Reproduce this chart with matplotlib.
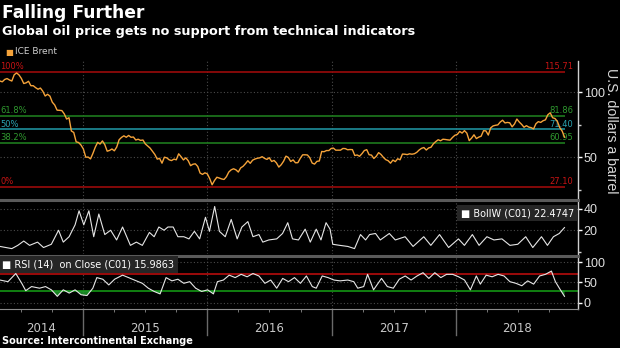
import matplotlib
matplotlib.use('Agg')

import numpy as np
import pandas as pd
import matplotlib.pyplot as plt
import matplotlib.transforms as mtransforms

# ICE Brent, weekly closes (USD/bbl), first week May 2014
brent = [108.6, 108.0, 109.8, 110.5, 109.4, 108.6, 113.4, 114.8, 113.3, 110.6,
         106.7, 107.2, 108.4, 105.0, 105.0, 103.5, 102.3, 103.2, 100.8, 97.1,
         98.4, 97.0, 92.3, 90.2, 86.2, 86.1, 85.9, 83.4, 79.4, 80.4,
         70.2, 69.1, 61.9, 61.4, 59.5,
         56.4, 50.1, 50.2, 48.8, 53.0, 57.8, 61.5, 60.2, 62.6, 59.7,
         54.7, 55.3, 56.4, 55.0, 57.9, 63.5, 65.3, 66.5, 65.4, 66.8,
         65.4, 65.6, 63.3, 63.9, 63.0, 63.3, 60.3, 58.7, 57.1, 54.6,
         52.2, 48.6, 49.2, 45.5, 50.1, 49.6, 48.1, 47.5, 48.6, 48.1,
         52.7, 50.5, 48.0, 49.6, 47.4, 43.6, 44.7, 45.0, 43.0, 37.9,
         36.9, 38.1,
         37.3, 33.6, 28.9, 32.2, 34.7, 34.1, 33.4, 33.0, 35.1, 38.7,
         40.4, 41.2, 40.4, 38.7, 41.9, 43.1, 45.1, 47.4, 45.4, 47.8,
         48.7, 49.3, 49.6, 50.5, 49.2, 48.4, 49.7, 46.8, 47.6, 45.7,
         42.5, 44.3, 47.0, 50.9, 49.9, 46.8, 48.0, 45.8, 45.9, 49.2,
         51.9, 51.95, 51.8, 49.7, 45.6, 44.8, 46.9, 47.2, 54.5, 54.3,
         55.2, 55.2, 56.8,
         57.1, 55.5, 55.5, 55.5, 56.8, 56.7, 55.8, 56.0, 55.9, 51.4,
         51.8, 50.8, 52.8, 55.2, 55.9, 52.0, 51.7, 49.1, 50.8, 53.6,
         52.2, 49.95, 48.2, 47.4, 45.5, 47.9, 46.7, 48.9, 48.1, 52.5,
         52.4, 52.1, 52.7, 52.4, 52.75, 53.8, 55.6, 56.9, 57.5, 55.6,
         57.2, 57.75, 60.4, 62.1, 63.5, 62.7, 63.9, 63.7, 63.4, 63.2,
         65.25, 66.9,
         67.6, 69.9, 68.6, 70.5, 68.6, 62.8, 64.8, 67.3, 64.4, 65.5,
         66.2, 70.45, 70.3, 67.1, 72.6, 74.1, 74.6, 74.9, 77.1, 78.5,
         76.4, 76.8, 76.5, 73.4, 75.6, 79.4, 77.1, 75.3, 73.1, 74.3,
         73.2, 72.8, 71.8, 75.8, 77.4, 76.8, 78.1, 78.8, 82.7, 84.2,
         80.4, 79.8, 77.6, 72.8, 70.2, 65.5]

# Bollinger band width readings (decimal year, value)
bollw_t = [2014.332, 2014.427, 2014.475, 2014.523, 2014.570, 2014.634, 2014.682, 2014.745,
           2014.803, 2014.841, 2014.888, 2014.936, 2014.968, 2015.006, 2015.047, 2015.086,
           2015.127, 2015.175, 2015.222, 2015.270, 2015.318, 2015.381, 2015.429, 2015.477,
           2015.534, 2015.572, 2015.610, 2015.652, 2015.683, 2015.725, 2015.763, 2015.811,
           2015.852, 2015.896, 2015.938, 2015.985, 2016.017, 2016.059, 2016.097, 2016.144,
           2016.192, 2016.240, 2016.278, 2016.326, 2016.367, 2016.415, 2016.446, 2016.494,
           2016.558, 2016.605, 2016.647, 2016.685, 2016.733, 2016.787, 2016.828, 2016.876,
           2016.914, 2016.955, 2016.987, 2017.009, 2017.066, 2017.130, 2017.184, 2017.232,
           2017.273, 2017.305, 2017.353, 2017.391, 2017.464, 2017.512, 2017.591, 2017.655,
           2017.741, 2017.798, 2017.868, 2017.941, 2018.020, 2018.068, 2018.132, 2018.186,
           2018.249, 2018.306, 2018.370, 2018.434, 2018.497, 2018.561, 2018.618, 2018.688,
           2018.736, 2018.784, 2018.831, 2018.873]
bollw = [5, 3, 6, 10, 6, 9, 4, 7,
         20, 9, 14, 25, 38, 25, 38, 14,
         35, 16, 20, 11, 23, 6, 9, 6,
         18, 14, 23, 20, 23, 23, 14, 14,
         12, 19, 12, 32, 19, 42, 19, 14,
         30, 12, 23, 28, 14, 16, 9, 11,
         12, 17, 27, 12, 11, 21, 9, 21,
         11, 27, 21, 7, 6, 5, 3, 16,
         11, 16, 17, 11, 17, 11, 14, 5,
         14, 6, 16, 4, 12, 6, 16, 6,
         14, 11, 12, 6, 7, 14, 4, 14,
         6, 14, 17, 22.4747]

# RSI(14) readings (decimal year, value)
rsi_t = [2014.332, 2014.396, 2014.459, 2014.507, 2014.539, 2014.586, 2014.650, 2014.698,
         2014.745, 2014.793, 2014.841, 2014.889, 2014.936, 2014.984, 2015.032, 2015.079,
         2015.111, 2015.159, 2015.207, 2015.254, 2015.318, 2015.366, 2015.413, 2015.477,
         2015.525, 2015.572, 2015.620, 2015.668, 2015.715, 2015.763, 2015.811, 2015.858,
         2015.906, 2015.954, 2016.002, 2016.049, 2016.081, 2016.129, 2016.176, 2016.224,
         2016.272, 2016.320, 2016.367, 2016.415, 2016.463, 2016.510, 2016.558, 2016.606,
         2016.653, 2016.701, 2016.749, 2016.797, 2016.844, 2016.876, 2016.924, 2016.971,
         2017.019, 2017.067, 2017.130, 2017.178, 2017.210, 2017.258, 2017.289, 2017.337,
         2017.401, 2017.448, 2017.496, 2017.544, 2017.592, 2017.639, 2017.687, 2017.735,
         2017.782, 2017.830, 2017.878, 2017.925, 2017.973, 2018.021, 2018.069, 2018.116,
         2018.164, 2018.196, 2018.243, 2018.291, 2018.339, 2018.387, 2018.434, 2018.482,
         2018.530, 2018.577, 2018.625, 2018.673, 2018.720, 2018.768, 2018.800, 2018.832,
         2018.873]
rsi = [56, 52, 72, 48, 30, 40, 36, 40,
       32, 16, 32, 24, 32, 20, 18, 36,
       62, 58, 44, 58, 68, 62, 56, 48,
       36, 28, 22, 62, 54, 58, 48, 52,
       36, 28, 32, 22, 52, 56, 68, 62,
       70, 64, 72, 66, 48, 56, 36, 60,
       52, 62, 48, 66, 40, 36, 66, 62,
       56, 54, 56, 52, 36, 40, 70, 32,
       60, 40, 36, 58, 66, 56, 66, 74,
       60, 74, 62, 70, 70, 64, 56, 32,
       66, 46, 68, 64, 70, 66, 52, 48,
       42, 54, 46, 66, 70, 78, 52, 36,
       15.9863]

fib_labels = ['100%', '61.8%', '50%', '38.2%', '0%']
fib_values = [115.71, 81.86, 71.40, 60.95, 27.10]
fib_line_colors = ['#9a0a0a', '#1d7a1d', '#1f8f9c', '#1d7a1d', '#9a0a0a']
fib_text_colors = ['#c81414', '#2f9a2f', '#2aa6b4', '#2f9a2f', '#c81414']

years = [2014, 2015, 2016, 2017, 2018]

BG = 'black'
x0, x1 = 2014.332, 2018.982


def dec_year(d):
    return np.asarray(d.year + (d.dayofyear - 1) / 365.25, dtype=float)


brent_dates = pd.date_range('2014-05-02', periods=len(brent), freq='7D')
brent_t = dec_year(brent_dates)

fig = plt.figure(figsize=(6.2, 3.48), dpi=100)
fig.patch.set_facecolor(BG)

ax = fig.add_axes([0, 0.4282, 0.9323, 0.3966])
axb = fig.add_axes([0, 0.2701, 0.9323, 0.1552])
axr = fig.add_axes([0, 0.1121, 0.9323, 0.1523])


def style(a):
    a.set_facecolor(BG)
    a.set_xlim(x0, x1)
    for s in ['left', 'top', 'bottom']:
        a.spines[s].set_visible(False)
    a.spines['right'].set_color('#cfcfcf')
    a.spines['right'].set_linewidth(1)
    a.yaxis.tick_right()
    a.tick_params(axis='y', which='major', direction='out', length=3, width=1,
                  color='white', labelcolor='#e0e0e0', labelsize=9, pad=1)
    a.tick_params(axis='y', which='minor', direction='out', length=2, width=1, color='#cfcfcf')
    a.tick_params(axis='x', which='both', bottom=False, labelbottom=False)
    for lab in a.get_yticklabels():
        lab.set_family('Liberation Sans')
    a.grid(axis='y', which='major', linestyle=(0, (1, 2)), color='#4a4a4a', linewidth=0.8)
    for y in years[1:]:
        a.axvline(y, color='#4a4a4a', linestyle=(0, (1, 2)), linewidth=0.8, zorder=0)


# price panel
ax.set_ylim(18, 124)
ax.set_yticks([50, 100])
ax.set_yticks([25, 75], minor=True)
# BollW panel
axb.set_ylim(-2, 48)
axb.set_yticks([20, 40])
axb.set_yticks([0], minor=True)
# RSI panel
axr.set_ylim(-15, 115)
axr.set_yticks([0, 50, 100])

for a in (ax, axb, axr):
    style(a)

t_end = brent_t[-1]
for lab, val, lc, tc in zip(fib_labels, fib_values, fib_line_colors, fib_text_colors):
    ax.hlines(val, x0, t_end, color=lc, linewidth=1.2, zorder=1)
    ax.text(x0 + 0.003, val + 0.6, lab, color=tc, fontsize=6, ha='left', va='bottom')
    ax.text(t_end + 0.07, val + 0.6, f'{val:.2f}', color=tc, fontsize=6, ha='right', va='bottom')
ax.plot(brent_t, brent, color='#f5a33a', linewidth=1.0, zorder=3)
fig.text(611 / 620, 1 - 131 / 348, 'U.S. dollars a barrel', color='#d8d8d8',
         fontsize=10.2, family='Liberation Sans', rotation=270, ha='center', va='center')

axb.spines['top'].set_visible(True)
axb.spines['top'].set_color('#5a5a5a')
axb.spines['top'].set_linewidth(2.2)
axb.plot(bollw_t, bollw, color='#e6e6e6', linewidth=0.8)
axb.text(0.993, 0.85, '\u25A0 BollW (C01) 22.4747', transform=axb.transAxes, color='white',
         fontsize=7, ha='right', va='top',
         bbox=dict(boxstyle='square,pad=0.35', facecolor='#262626', edgecolor='none'))

axr.spines['top'].set_visible(True)
axr.spines['top'].set_color('#5a5a5a')
axr.spines['top'].set_linewidth(2.2)
axr.spines['bottom'].set_visible(True)
axr.spines['bottom'].set_color('#8a8a8a')
rsi_arr = np.array(rsi)
axr.axhline(70, color='#a80c0c', linewidth=1.3, zorder=1)
axr.axhline(30, color='#128a12', linewidth=1.3, zorder=1)
axr.fill_between(rsi_t, rsi_arr, 30, where=rsi_arr < 30, interpolate=True,
                 color='#1e9a2a', alpha=0.85, linewidth=0, zorder=2)
axr.fill_between(rsi_t, rsi_arr, 70, where=rsi_arr > 70, interpolate=True,
                 color='#b81414', alpha=0.85, linewidth=0, zorder=2)
axr.plot(rsi_t, rsi, color='#e6e6e6', linewidth=0.8, zorder=3)
axr.text(0.004, 0.93, '\u25A0 RSI (14)  on Close (C01) 15.9863', transform=axr.transAxes,
         color='white', fontsize=7, ha='left', va='top',
         bbox=dict(boxstyle='square,pad=0.35', facecolor='#262626', edgecolor='none'))

quarters = [y + q / 4 for y in range(2014, 2019) for q in range(4) if x0 < y + q / 4 < x1]
axr.set_xticks(quarters, minor=True)
axr.tick_params(axis='x', which='minor', bottom=True, direction='out', length=2,
                color='#8a8a8a')

# year separators and labels below the axis
for y in years[1:]:
    axr.axvline(y, ymin=-0.49, ymax=0, color='#6a6a6a', linewidth=1, clip_on=False)
trans = mtransforms.blended_transform_factory(axr.transData, fig.transFigure)
for y in years:
    lo, hi = max(y, x0), min(y + 1, x1)
    axr.text((lo + hi) / 2, 1 - 329 / 348, str(y), transform=trans, color='#c8c8c8',
             fontsize=8.5, ha='center', va='center')

# titles
fig.text(0.004, 1 - 13 / 348, 'Falling Further', color='white', fontsize=12.3,
         fontweight='bold', ha='left', va='center')
fig.text(0.004, 1 - 32 / 348, 'Global oil price gets no support from technical indicators',
         color='white', fontsize=9.2, fontweight='bold', ha='left', va='center')
fig.text(0.008, 1 - 52 / 348, '\u25A0', color='#f5a33a', fontsize=6, ha='left', va='center')
fig.text(0.024, 1 - 52 / 348, 'ICE Brent', color='#d0d0d0', fontsize=6.5, ha='left', va='center')
fig.text(0.004, 1 - 341 / 348, 'Source: Intercontinental Exchange', color='white',
         fontsize=7, fontweight='bold', ha='left', va='center')

fig.savefig('out.png', dpi=100, facecolor=BG)
